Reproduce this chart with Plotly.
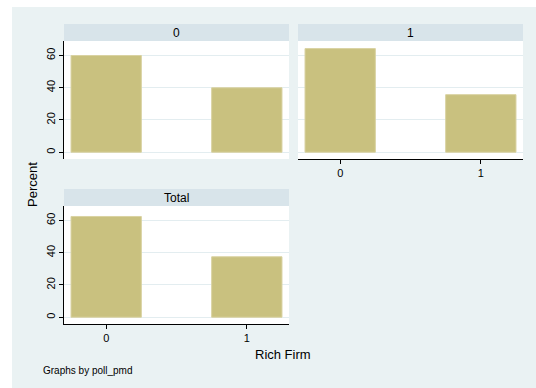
import plotly.graph_objects as go

# ---- data ----
categories = [0, 1]
tick_labels = ["0", "1"]
pct_group0 = [60.0, 40.0]
pct_group1 = [64.29, 35.71]
pct_total = [62.5, 37.5]
panel_titles = ["0", "1", "Total"]
y_ticks = [0, 20, 40, 60]

W, H = 536, 388
BG = "#eaf2f3"
STRIP = "#d8e4ea"
BAR = "#c9c17f"
BAR_LINE = "#d9d2a2"
GRID = "#e3edf0"
FONT = "Arial, Liberation Sans, sans-serif"


def px(x):
    return x / W


def py(y):
    return 1 - y / H


fig = go.Figure()

panels = [
    (pct_group0, "x", "y"),
    (pct_group1, "x2", "y2"),
    (pct_total, "x3", "y3"),
]
for vals, xa, ya in panels:
    fig.add_trace(go.Bar(
        x=categories, y=vals, width=0.5, xaxis=xa, yaxis=ya,
        marker=dict(color=BAR, line=dict(color=BAR_LINE, width=1)),
        showlegend=False, hoverinfo="skip",
    ))

# panel boxes in pixels (left, right, top, bottom)
boxes = {
    1: (64, 289, 41, 159),
    2: (298, 523, 41, 159),
    3: (64, 289, 206, 324),
}

yrange = [-4.2, 69]
xrange_ = [-0.3, 1.3]

common_x = dict(range=xrange_, tickvals=categories, ticktext=tick_labels,
                showgrid=False, zeroline=False, fixedrange=True,
                tickfont=dict(size=11, color="#000", family=FONT))
common_y = dict(range=yrange, tickvals=y_ticks, showgrid=True, gridcolor=GRID,
                gridwidth=1, zeroline=False, fixedrange=True,
                tickangle=-90,
                tickfont=dict(size=11, color="#000", family=FONT))

layout = {}
for i, (l, r, t, b) in boxes.items():
    suffix = "" if i == 1 else str(i)
    xd = [px(l), px(r)]
    yd = [py(b), py(t)]
    show_x = i in (2, 3)
    show_y = i in (1, 3)
    layout["xaxis" + suffix] = dict(
        common_x, domain=xd, anchor="y" + suffix,
        showline=show_x, linecolor="#000", linewidth=1,
        ticks="outside" if show_x else "", ticklen=4, tickcolor="#000",
        showticklabels=show_x,
    )
    layout["yaxis" + suffix] = dict(
        common_y, domain=yd, anchor="x" + suffix,
        showline=show_y, linecolor="#000", linewidth=1,
        ticks="outside" if show_y else "", ticklen=4, tickcolor="#000",
        showticklabels=show_y,
    )

shapes = [
    # white outer border on top and left
    dict(type="rect", xref="paper", yref="paper", x0=-0.1, x1=1.1,
         y0=py(7), y1=1.1, fillcolor="white", line=dict(width=0), layer="below"),
    dict(type="rect", xref="paper", yref="paper", x0=-0.1, x1=px(12),
         y0=-0.1, y1=1.1, fillcolor="white", line=dict(width=0), layer="below"),
]
strip_boxes = [
    (64, 289, 24, 41, panel_titles[0]),
    (298, 523, 24, 41, panel_titles[1]),
    (64, 289, 189, 206, panel_titles[2]),
]
annotations = []
for l, r, t, b, txt in strip_boxes:
    shapes.append(dict(type="rect", xref="paper", yref="paper",
                       x0=px(l), x1=px(r), y0=py(b), y1=py(t),
                       fillcolor=STRIP, line=dict(width=0), layer="below"))
    annotations.append(dict(text=txt, xref="paper", yref="paper",
                            x=px((l + r) / 2), y=py((t + b) / 2),
                            xanchor="center", yanchor="middle", showarrow=False,
                            font=dict(size=12, color="#000", family=FONT)))

annotations += [
    dict(text="Percent", xref="paper", yref="paper", x=px(32), y=py(185),
         xanchor="center", yanchor="middle", textangle=-90, showarrow=False,
         font=dict(size=13, color="#000", family=FONT)),
    dict(text="Rich Firm", xref="paper", yref="paper", x=px(283), y=py(354),
         xanchor="center", yanchor="middle", showarrow=False,
         font=dict(size=13, color="#000", family=FONT)),
    dict(text="Graphs by poll_pmd", xref="paper", yref="paper", x=px(41), y=py(370),
         xanchor="left", yanchor="middle", showarrow=False,
         font=dict(size=10, color="#000", family=FONT)),
]

fig.update_layout(
    width=W, height=H, autosize=False,
    margin=dict(l=0, r=0, t=0, b=0, pad=0),
    paper_bgcolor=BG, plot_bgcolor="white",
    font=dict(family=FONT, color="#000"),
    shapes=shapes, annotations=annotations,
    bargap=0, **layout,
)

fig.write_html("out.html", config={"displayModeBar": False, "staticPlot": True})
